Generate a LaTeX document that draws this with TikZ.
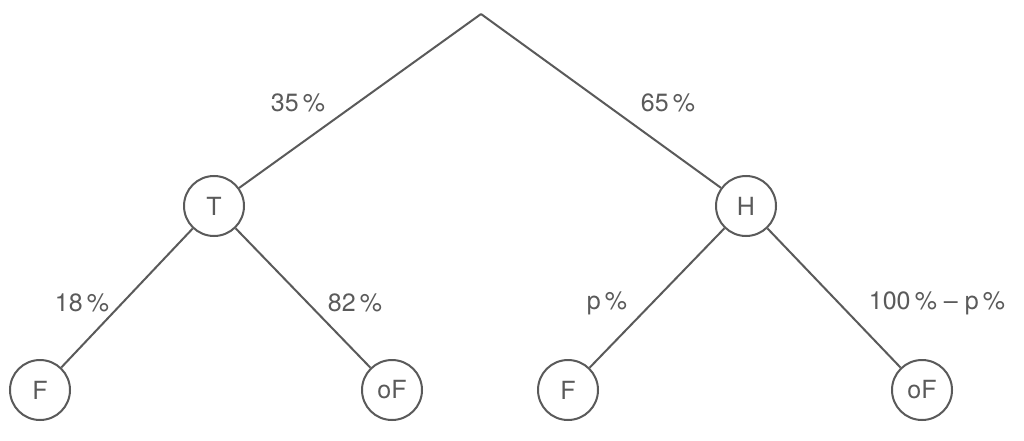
\documentclass[tikz,border=0pt]{standalone}
\usepackage{fontspec}
\setmainfont{TeX Gyre Heros}
\usepackage{xcolor}
\definecolor{treegray}{HTML}{5A5A5A}
\begin{document}
\begin{tikzpicture}[x=1pt, y=-1pt, line width=2pt, draw=treegray,
    every node/.style={text=treegray, font=\fontsize{25}{30}\selectfont}]
    \tikzset{state/.style = {circle, draw=treegray, fill=white, minimum size=60pt, inner sep=0pt}}
    \tikzset{prob/.style = {inner sep=0pt}}
    \tikzset{branch/.style = {draw=treegray, line width=2pt}}
    \useasboundingbox (0,0) rectangle (1024,441);

    % Tree nodes
    \coordinate (root) at (481,14);
    \node [state] (t) at (214,206) {T};
    \node [state] (h) at (746,206) {H};
    \node [state] (tf) at (40,390) {F};
    \node [state] (tof) at (392,390) {oF};
    \node [state] (hf) at (568,390) {F};
    \node [state] (hof) at (922,390) {oF};

    % Branches
    \draw [branch] (root) -- (t);
    \draw [branch] (root) -- (h);
    \draw [branch] (t) -- (tf);
    \draw [branch] (t) -- (tof);
    \draw [branch] (h) -- (hf);
    \draw [branch] (h) -- (hof);

    % Probabilities
    \node [prob] (p1) at (298,103) {35\,\%};
    \node [prob] (p2) at (668,103) {65\,\%};
    \node [prob] (p3) at (82,303) {18\,\%};
    \node [prob] (p4) at (355,303) {82\,\%};
    \node [prob] (p5) at (607,303) {p\,\%};
    \node [prob] (p6) at (937,303) {100\,\% -- p\,\%};
\end{tikzpicture}
\end{document}
